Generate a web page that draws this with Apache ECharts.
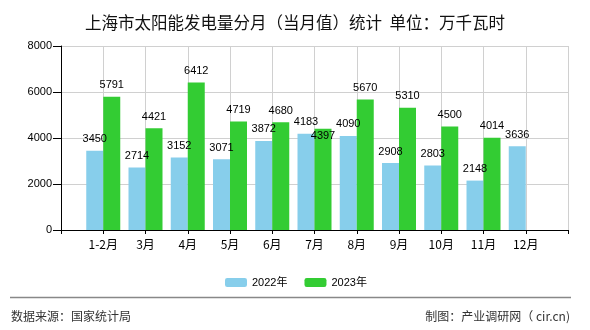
<!DOCTYPE html>
<html>
<head>
<meta charset="utf-8">
<script src="https://cdn.jsdelivr.net/npm/echarts@6/dist/echarts.min.js"></script>
<style>html,body{margin:0;padding:0;background:#fff}#c{width:590px;height:330px}</style>
</head>
<body>
<div id="c"></div>
<script>
var categories = ['1-2月','3月','4月','5月','6月','7月','8月','9月','10月','11月','12月'];
var values2022 = [3450, 2714, 3152, 3071, 3872, 4183, 4090, 2908, 2803, 2148, 3636];
var values2023 = [5791, 4421, 6412, 4719, 4680, 4397, 5670, 5310, 4500, 4014, null];
var seriesNames = ['2022年', '2023年'];
var yTicks = [0, 2000, 4000, 6000, 8000];

var FONT = '"Liberation Sans", "Noto Sans CJK SC", sans-serif';
var CJK = '"Noto Sans CJK SC", "Liberation Sans", sans-serif';

// pad with empty first/last slot so ticks sit at bar centres (boundaryGap false)
var cats = [''].concat(categories, ['']);
function pad(arr) { return [null].concat(arr, [null]); }

var d2023 = pad(values2023).map(function (v, i) {
  if (v == null) return v;
  // 7月 label sits just below the bar top in the reference (overlap avoidance)
  if (cats[i] === '7月') return { value: v, label: { position: 'insideTop', distance: 2 } };
  return v;
});

var chart = echarts.init(document.getElementById('c'), null, { renderer: 'canvas' });
chart.setOption({
  animation: false,
  title: {
    text: '上海市太阳能发电量分月（当月值）统计  单位：万千瓦时',
    left: 'center', top: 9,
    textStyle: { fontSize: 16.5, fontWeight: 'normal', color: '#111', fontFamily: CJK }
  },
  legend: {
    data: seriesNames,
    left: 220, top: 272,
    itemWidth: 22, itemHeight: 9, itemGap: 17,
    textStyle: { fontSize: 11, color: '#000', fontFamily: FONT }
  },
  grid: { left: 61, right: 22, top: 46, bottom: 100, containLabel: false },
  xAxis: {
    type: 'category',
    data: cats,
    boundaryGap: false,
    axisLine: { lineStyle: { color: '#000', width: 1 } },
    axisTick: { show: true, length: 4, alignWithLabel: true, lineStyle: { color: '#000' } },
    axisLabel: { fontSize: 12, color: '#000', margin: 8, fontFamily: CJK, interval: 0 },
    splitLine: { show: true, lineStyle: { color: '#d0d0d0', width: 1 } }
  },
  yAxis: {
    type: 'value',
    min: yTicks[0], max: yTicks[yTicks.length - 1], interval: 2000,
    axisLine: { show: true, lineStyle: { color: '#000', width: 1 } },
    axisTick: { show: true, length: 8, lineStyle: { color: '#000' } },
    axisLabel: { fontSize: 11, color: '#000', margin: 9, fontFamily: FONT,
      formatter: function (v) { return String(v); } },
    splitLine: { show: true, lineStyle: { color: '#d0d0d0', width: 1 } }
  },
  series: [
    {
      name: seriesNames[0], type: 'bar', data: pad(values2022),
      barWidth: 17, barGap: '0%',
      itemStyle: { color: '#87CEEB' },
      label: { show: true, position: 'top', distance: 6, fontSize: 11, color: '#000', fontFamily: FONT }
    },
    {
      name: seriesNames[1], type: 'bar', data: d2023,
      barWidth: 17, barGap: '0%',
      itemStyle: { color: '#33CC33' },
      label: { show: true, position: 'top', distance: 6, fontSize: 11, color: '#000', fontFamily: FONT }
    }
  ],
  graphic: [
    { type: 'line', shape: { x1: 10, y1: 297.5, x2: 571, y2: 297.5 }, style: { stroke: '#888', lineWidth: 1.5 } },
    { type: 'text', left: 11, top: 310, style: { text: '数据来源：国家统计局', fontSize: 12, fill: '#333', fontFamily: CJK } },
    { type: 'text', right: 20, top: 310, style: { text: '制图：产业调研网（ cir.cn)', fontSize: 12, fill: '#333', fontFamily: CJK } }
  ]
});
</script>
</body>
</html>
